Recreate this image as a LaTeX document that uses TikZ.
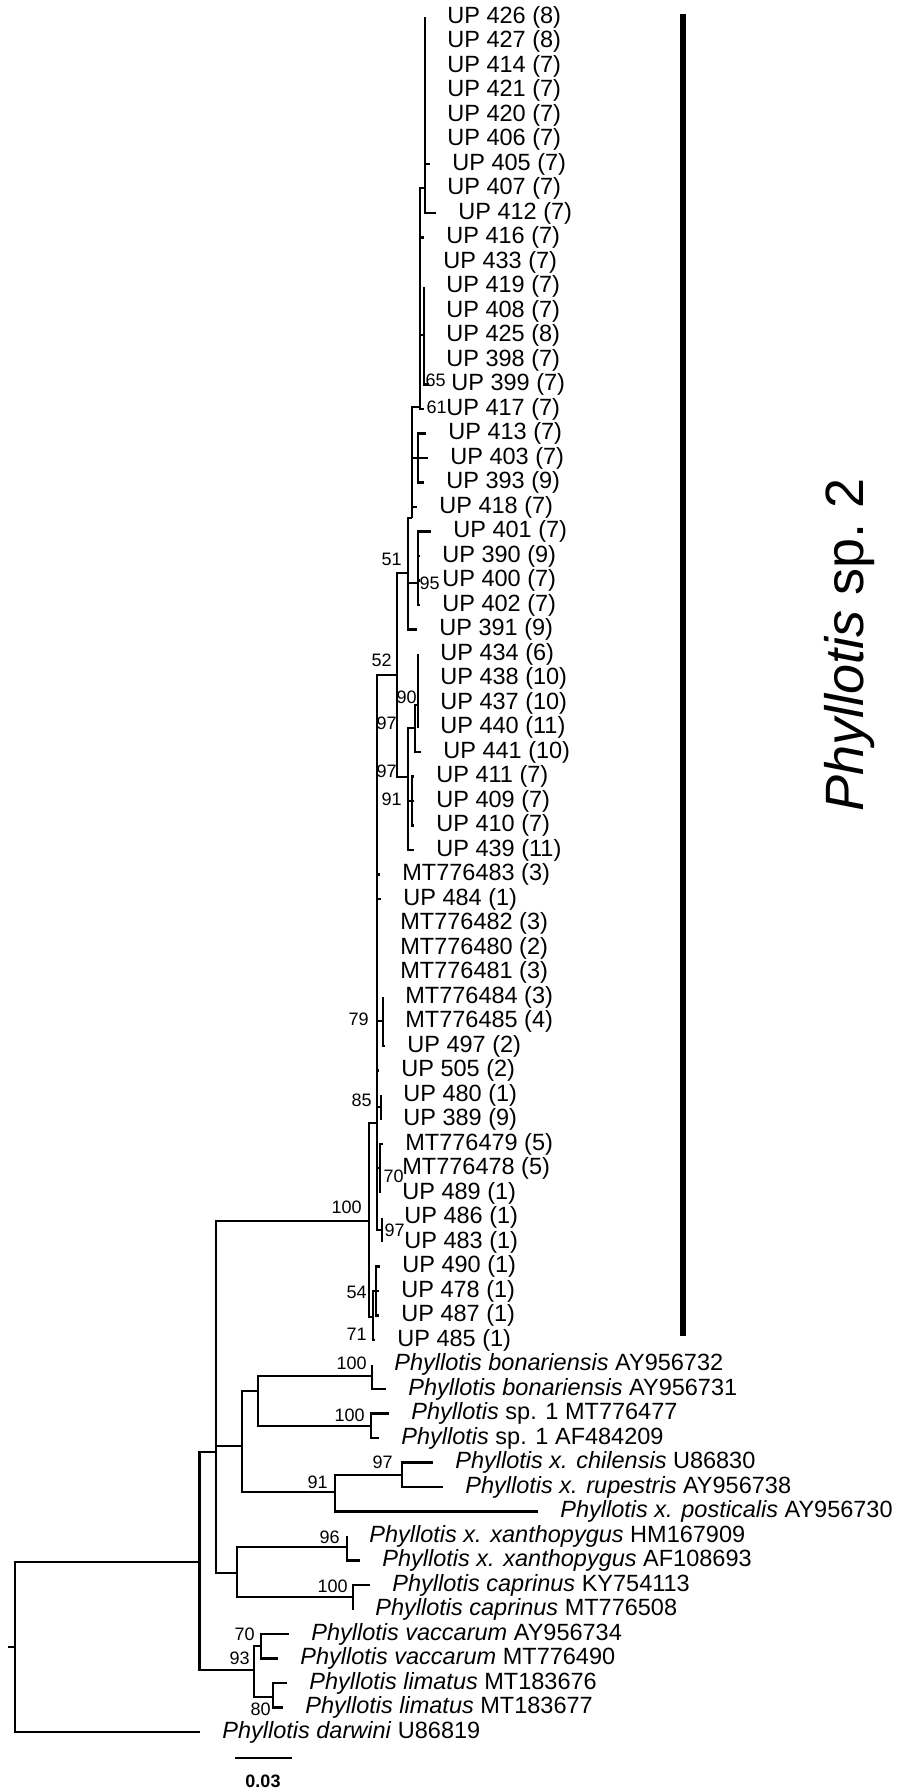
\documentclass[tikz,border=0pt]{standalone}
\usepackage{fontspec}
\setmainfont{Liberation Sans}
\usetikzlibrary{positioning}
\tikzset{
  br/.style  ={line width=1.15pt},
  lab/.style ={inner sep=0pt, font=\fontsize{11.75}{12}\selectfont},
  bs/.style  ={inner sep=0pt, anchor=east, font=\fontsize{9}{10}\selectfont},
  clade/.style={line width=3pt},
}

\begin{document}
\begin{tikzpicture}[x=0.5pt,y=-0.5pt]
  \useasboundingbox (0,0) rectangle (904,1790);
  % leaves: number / tip x / label
  \foreach \i/\tx/\txt in {
    1/425/{UP 426 (8)}, 2/425/{UP 427 (8)}, 3/425/{UP 414 (7)}, 4/425/{UP 421 (7)},
    5/425/{UP 420 (7)}, 6/425/{UP 406 (7)}, 7/430/{UP 405 (7)}, 8/425/{UP 407 (7)},
    9/436/{UP 412 (7)}, 10/424/{UP 416 (7)}, 11/421/{UP 433 (7)}, 12/424/{UP 419 (7)},
    13/424/{UP 408 (7)}, 14/424/{UP 425 (8)}, 15/424/{UP 398 (7)}, 16/429/{UP 399 (7)},
    17/424/{UP 417 (7)}, 18/426/{UP 413 (7)}, 19/428/{UP 403 (7)}, 20/424/{UP 393 (9)},
    21/417/{UP 418 (7)}, 22/431/{UP 401 (7)}, 23/420/{UP 390 (9)}, 24/420/{UP 400 (7)},
    25/420/{UP 402 (7)}, 26/417/{UP 391 (9)}, 27/418/{UP 434 (6)}, 28/418/{UP 438 (10)},
    29/418/{UP 437 (10)}, 30/418/{UP 440 (11)}, 31/421/{UP 441 (10)}, 32/414/{UP 411 (7)},
    33/414/{UP 409 (7)}, 34/414/{UP 410 (7)}, 35/414/{UP 439 (11)}, 36/380/{MT776483 (3)},
    37/381/{UP 484 (1)}, 38/378/{MT776482 (3)}, 39/378/{MT776480 (2)}, 40/378/{MT776481 (3)},
    41/383/{MT776484 (3)}, 42/383/{MT776485 (4)}, 43/385/{UP 497 (2)}, 44/379/{UP 505 (2)},
    45/381/{UP 480 (1)}, 46/381/{UP 389 (9)}, 47/383/{MT776479 (5)}, 48/380/{MT776478 (5)},
    49/380/{UP 489 (1)}, 50/382/{UP 486 (1)}, 51/382/{UP 483 (1)}, 52/380/{UP 490 (1)},
    53/379/{UP 478 (1)}, 54/379/{UP 487 (1)}, 55/375/{UP 485 (1)},
    56/372/{\textit{Phyllotis bonariensis} AY956732},
    57/386/{\textit{Phyllotis bonariensis} AY956731},
    58/389/{\textit{Phyllotis} sp. 1 MT776477},
    59/379/{\textit{Phyllotis} sp. 1 AF484209},
    60/433/{\textit{Phyllotis x. chilensis} U86830},
    61/443/{\textit{Phyllotis x. rupestris} AY956738},
    62/538/{\textit{Phyllotis x. posticalis} AY956730},
    63/347/{\textit{Phyllotis x. xanthopygus} HM167909},
    64/360/{\textit{Phyllotis x. xanthopygus} AF108693},
    65/370/{\textit{Phyllotis caprinus} KY754113},
    66/353/{\textit{Phyllotis caprinus} MT776508},
    67/289/{\textit{Phyllotis vaccarum} AY956734},
    68/278/{\textit{Phyllotis vaccarum} MT776490},
    69/287/{\textit{Phyllotis limatus} MT183676},
    70/283/{\textit{Phyllotis limatus} MT183677},
    71/200/{\textit{Phyllotis darwini} U86819}}{
    \coordinate (t\i) at (\tx,{17+(\i-1)*24.5});
    \node[lab, right=11pt of t\i] (l\i) {\txt};
  }
  % inner nodes
  \coordinate (nroot) at (15,1647);
  \coordinate (rstub) at (8,1647);
  \coordinate (nin)   at (199.5,1562);
  \coordinate (nmid)  at (216,1452);
  \coordinate (nbx)   at (242,1446);
  \coordinate (nbs)   at (258,1391);
  \coordinate (nbon)  at (372,1376);
  \coordinate (nsp1)  at (371,1426);
  \coordinate (nx91)  at (335,1492);
  \coordinate (nx97)  at (402,1475);
  \coordinate (nxc)   at (237,1573);
  \coordinate (nxan)  at (347,1547);
  \coordinate (ncap)  at (353,1597);
  \coordinate (nvl)   at (254,1670);
  \coordinate (nvac)  at (261,1646);
  \coordinate (nlim)  at (273,1697);
  \coordinate (n100)  at (369,1221);
  \coordinate (nup)   at (377,1123);
  \coordinate (n71)   at (373,1317);
  \coordinate (n54)   at (376,1291);
  \coordinate (n79)   at (383,1021);
  \coordinate (n85)   at (381,1107);
  \coordinate (n70)   at (380,1168);
  \coordinate (n97c)  at (382,1230);
  \coordinate (n52)   at (397,675);
  \coordinate (n51)   at (408,573);
  \coordinate (n97b)  at (408,777);
  \coordinate (ntop)  at (412,518);
  \coordinate (n95)   at (418,583);
  \coordinate (nb)    at (420,407);
  \coordinate (na)    at (425,188);
  \coordinate (nc)    at (424,335);
  \coordinate (n61)   at (418,458);
  \coordinate (np)    at (415,728);
  \coordinate (nqq)   at (418,705);
  \coordinate (n91)   at (412,801);
  % branches
  \draw[br] (nroot) -- (rstub);
  \foreach \p/\c in {nroot/nin, nroot/t71, nin/nmid, nin/nvl,
      nmid/n100, nmid/nbx, nmid/nxc, nbx/nbs, nbx/nx91, nbs/nbon, nbs/nsp1,
      nbon/t56, nbon/t57, nsp1/t58, nsp1/t59, nx91/nx97, nx91/t62, nx97/t60, nx97/t61,
      nxc/nxan, nxc/ncap, nxan/t63, nxan/t64, ncap/t65, ncap/t66,
      nvl/nvac, nvl/nlim, nvac/t67, nvac/t68, nlim/t69, nlim/t70,
      n100/nup, n100/n71, n71/n54, n71/t55, n54/t52, n54/t53, n54/t54,
      nup/n52, nup/t36, nup/t37, nup/t38, nup/t39, nup/t40, nup/n79, nup/t44,
      nup/n85, nup/n70, nup/n97c,
      n79/t41, n79/t42, n79/t43, n85/t45, n85/t46, n70/t47, n70/t48, n70/t49,
      n97c/t50, n97c/t51,
      n52/n51, n52/n97b, n51/ntop, n51/n95, n51/t26,
      ntop/nb, ntop/n61, ntop/t21, nb/na, nb/t10, nb/t11, nb/nc, nb/t17,
      na/t1, na/t2, na/t3, na/t4, na/t5, na/t6, na/t7, na/t8, na/t9,
      nc/t12, nc/t13, nc/t14, nc/t15, nc/t16, n61/t18, n61/t19, n61/t20,
      n95/t22, n95/t23, n95/t24, n95/t25,
      n97b/np, n97b/n91, n97b/t35, np/nqq, np/t31,
      nqq/t27, nqq/t28, nqq/t29, nqq/t30, n91/t32, n91/t33, n91/t34}
    \draw[br] (\p) |- (\c);
  % support values
  \node[bs] (b65)  at (446,380)  {65};
  \node[bs] (b61)  at (447,407)  {61};
  \node[bs] (b51)  at (402,559)  {51};
  \node[bs] (b95)  at (440,583)  {95};
  \node[bs] (b52)  at (392,660)  {52};
  \node[bs] (b90)  at (417,697)  {90};
  \node[bs] (b97a) at (397,723)  {97};
  \node[bs] (b97b) at (397,771)  {97};
  \node[bs] (b91a) at (402,799)  {91};
  \node[bs] (b79)  at (369,1019) {79};
  \node[bs] (b85)  at (372,1100) {85};
  \node[bs] (b70a) at (404,1176) {70};
  \node[bs] (b100a) at (362,1207) {100};
  \node[bs] (b97c) at (405,1230) {97};
  \node[bs] (b54)  at (367,1292) {54};
  \node[bs] (b71)  at (367,1334) {71};
  \node[bs] (b100b) at (367,1363) {100};
  \node[bs] (b100c) at (365,1415) {100};
  \node[bs] (b97d) at (393,1462) {97};
  \node[bs] (b91b) at (328,1482) {91};
  \node[bs] (b96)  at (340,1537) {96};
  \node[bs] (b100d) at (348,1586) {100};
  \node[bs] (b70b) at (255,1634) {70};
  \node[bs] (b93)  at (250,1658) {93};
  \node[bs] (b80)  at (271,1709) {80};
  % clade bar and name
  \coordinate (bartop) at (683,14);
  \coordinate (barbot) at (683,1336);
  \draw[clade] (bartop) -- (barbot);
  \node[rotate=90, font=\fontsize{27}{30}\selectfont] (sp2) at (850,645) {\textit{Phyllotis} sp.~2};
  % scale
  \coordinate (sc1) at (235,1758);
  \coordinate (sc2) at (292,1758);
  \draw[br] (sc1) -- (sc2);
  \node[font=\bfseries\fontsize{9}{10}\selectfont] (scl) at (263,1781) {0.03};
\end{tikzpicture}
\end{document}
